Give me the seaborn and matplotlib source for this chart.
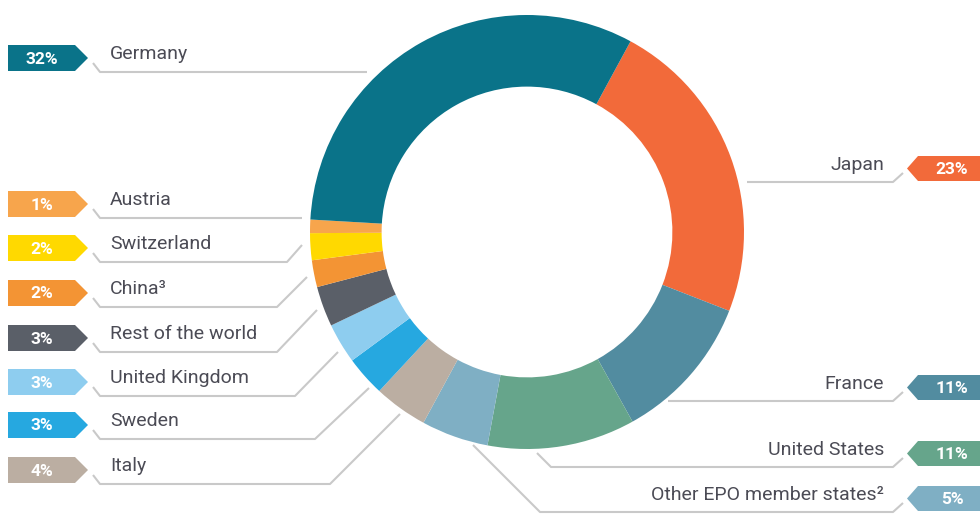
import matplotlib
matplotlib.use("Agg")
import matplotlib.pyplot as plt
from matplotlib.patches import Polygon
from matplotlib import font_manager
import seaborn as sns

# ---- data ----
countries = ["Japan", "France", "United States", "Other EPO member states²", "Italy",
             "Sweden", "United Kingdom", "Rest of the world", "China³", "Switzerland",
             "Austria", "Germany"]
shares = [23, 11, 11, 5, 4, 3, 3, 3, 2, 2, 1, 32]
colors = ["#f26a3a", "#528ca0", "#66a58b", "#7fafc4", "#bbaea2", "#26a8e0",
          "#8ecdef", "#5a5f68", "#f39434", "#ffd900", "#f7a54c", "#0a7389"]

sns.set_theme(style="white")
names = {f.name for f in font_manager.fontManager.ttflist}
fam = [f for f in ["Liberation Sans Narrow", "Roboto", "DejaVu Sans"] if f in names]
plt.rcParams["font.family"] = fam

fig = plt.figure(figsize=(9.8, 5.14), dpi=100)
ax = fig.add_axes([0, 0, 1, 1])

# ---- donut ----
cx, cy, R = 527, 232, 217
ax.pie(shares, colors=colors, startangle=-61.5, counterclock=True,
       center=(cx, cy), radius=R,
       wedgeprops=dict(width=R * 0.33, linewidth=0))
ax.set_xlim(0, 980)
ax.set_ylim(514, 0)
ax.set_aspect("equal")
ax.axis("off")

line_c = "#c9c9c9"
text_c = "#4b4b55"

# ---- layout for label rows (screen px) ----
left_layout = {
    "Germany": (72, 367, 367, 72),
    "Austria": (218, 302, 302, 218),
    "Switzerland": (262, 287, 302, 245),
    "China³": (307, 277, 307, 277),
    "Rest of the world": (352, 277, 317, 310),
    "United Kingdom": (396, 295, 338, 352),
    "Sweden": (439, 315, 369, 388),
    "Italy": (484, 330, 400, 414),
}
right_layout = {
    "Japan": (182, 747, 182),
    "France": (401, 668, 401),
    "United States": (467, 537, 453),
    "Other EPO member states²": (512, 473, 445),
}

lookup = dict(zip(countries, zip(shares, colors)))

for name, (ly, dx, axx, ayy) in left_layout.items():
    val, col = lookup[name]
    top, bot = ly - 27, ly - 1
    mid = (top + bot) / 2
    ax.add_patch(Polygon([(8, top), (75, top), (88, mid), (75, bot), (8, bot)],
                         closed=True, facecolor=col, edgecolor="none"))
    ax.text(42, mid + 1, f"{val}%", color="white", fontsize=12.5, fontweight="bold",
            ha="center", va="center")
    ax.text(110, ly - 13, name, color=text_c, fontsize=14, ha="left", va="baseline")
    ax.plot([93, 100, dx, axx], [ly - 9, ly, ly, ayy], color=line_c, lw=1.5,
            solid_capstyle="butt")

for name, (ly, axx, ayy) in right_layout.items():
    val, col = lookup[name]
    top, bot = ly - 26, ly - 1
    mid = (top + bot) / 2
    ax.add_patch(Polygon([(907, mid), (918, top), (985, top), (985, bot), (918, bot)],
                         closed=True, facecolor=col, edgecolor="none", clip_on=False))
    ax.text(952, mid + 1, f"{val}%", color="white", fontsize=12.5, fontweight="bold",
            ha="center", va="center")
    ax.text(884, ly - 12, name, color=text_c, fontsize=14, ha="right", va="baseline")
    if axx < 540:
        xs = [axx, axx + (ly - ayy), 893, 903]
        ys = [ayy, ly, ly, ly - 9]
    else:
        xs = [axx, 893, 903]
        ys = [ly, ly, ly - 9]
    ax.plot(xs, ys, color=line_c, lw=1.5, solid_capstyle="butt")

fig.savefig("out.png", dpi=100)
